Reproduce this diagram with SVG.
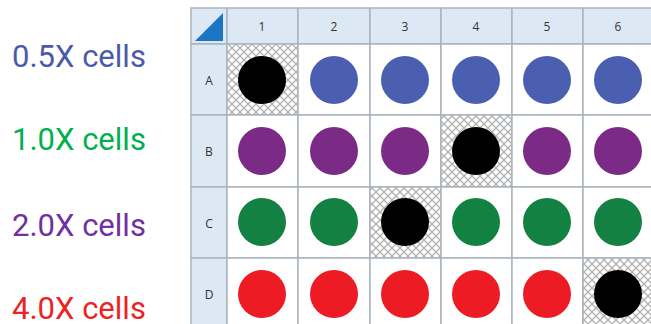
<svg xmlns="http://www.w3.org/2000/svg" width="651" height="324" viewBox="0 0 651 324">
<style>
.lbl{font-family:Roboto,"Liberation Sans",sans-serif;font-size:31px}
.hdr{font-family:"Open Sans","Liberation Sans",Arial,sans-serif;font-size:12px;fill:#333;text-anchor:middle}
.hcell{fill:#dce9f4;stroke:#a9b4bf;stroke-width:1.5}
.cell{fill:#fff;stroke:#a9b4bf;stroke-width:1.5}
.hatch{fill:url(#xh);stroke:#a9b4bf;stroke-width:1.5}
.blue{fill:#4b5fb0}.purple{fill:#7b2a86}.green{fill:#138142}.red{fill:#ed1c24}.black{fill:#000}
</style>
<defs>
<pattern id="xh" patternUnits="userSpaceOnUse" width="8" height="8">
<rect width="8" height="8" fill="#fff"/>
<path d="M0,0L8,8M8,0L0,8" stroke="#b0b0b0" stroke-width="1.3"/>
</pattern>
</defs>
<rect width="651" height="324" fill="#fff"/>
<g id="labels">
<text class="lbl" x="12" y="67" fill="#4b5aa8">0.5X cells</text>
<text class="lbl" x="12" y="150" fill="#00b050">1.0X cells</text>
<text class="lbl" x="12" y="236" fill="#7030a0">2.0X cells</text>
<text class="lbl" x="12" y="319" fill="#ee2222">4.0X cells</text>
</g>
<g id="header">
<rect class="hcell" x="191" y="8" width="36" height="36"/>
<polygon points="195,41 223,41 223,13" fill="#1b75c2"/>
<rect class="hcell" x="227" y="8" width="71" height="36"/>
<rect class="hcell" x="298" y="8" width="72" height="36"/>
<rect class="hcell" x="370" y="8" width="71" height="36"/>
<rect class="hcell" x="441" y="8" width="71" height="36"/>
<rect class="hcell" x="512" y="8" width="71" height="36"/>
<rect class="hcell" x="583" y="8" width="72" height="36"/>
<text class="hdr" x="262" y="31">1</text>
<text class="hdr" x="334" y="31">2</text>
<text class="hdr" x="405" y="31">3</text>
<text class="hdr" x="476" y="31">4</text>
<text class="hdr" x="547" y="31">5</text>
<text class="hdr" x="618" y="31">6</text>
<rect class="hcell" x="191" y="44" width="36" height="71"/>
<rect class="hcell" x="191" y="115" width="36" height="72"/>
<rect class="hcell" x="191" y="187" width="36" height="71"/>
<rect class="hcell" x="191" y="258" width="36" height="72"/>
<text class="hdr" x="209" y="85">A</text>
<text class="hdr" x="209" y="156">B</text>
<text class="hdr" x="209" y="228">C</text>
<text class="hdr" x="209" y="299">D</text>
</g>
<g id="rowA">
<rect class="hatch" x="227" y="44" width="71" height="71"/>
<rect class="cell" x="298" y="44" width="72" height="71"/>
<rect class="cell" x="370" y="44" width="71" height="71"/>
<rect class="cell" x="441" y="44" width="71" height="71"/>
<rect class="cell" x="512" y="44" width="71" height="71"/>
<rect class="cell" x="583" y="44" width="72" height="71"/>
<circle class="black" cx="262" cy="80" r="24"/>
<circle class="blue" cx="334" cy="80" r="24"/>
<circle class="blue" cx="405" cy="80" r="24"/>
<circle class="blue" cx="476" cy="80" r="24"/>
<circle class="blue" cx="547" cy="80" r="24"/>
<circle class="blue" cx="618" cy="80" r="24"/>
</g>
<g id="rowB">
<rect class="cell" x="227" y="115" width="71" height="72"/>
<rect class="cell" x="298" y="115" width="72" height="72"/>
<rect class="cell" x="370" y="115" width="71" height="72"/>
<rect class="hatch" x="441" y="115" width="71" height="72"/>
<rect class="cell" x="512" y="115" width="71" height="72"/>
<rect class="cell" x="583" y="115" width="72" height="72"/>
<circle class="purple" cx="262" cy="151" r="24"/>
<circle class="purple" cx="334" cy="151" r="24"/>
<circle class="purple" cx="405" cy="151" r="24"/>
<circle class="black" cx="476" cy="151" r="24"/>
<circle class="purple" cx="547" cy="151" r="24"/>
<circle class="purple" cx="618" cy="151" r="24"/>
</g>
<g id="rowC">
<rect class="cell" x="227" y="187" width="71" height="71"/>
<rect class="cell" x="298" y="187" width="72" height="71"/>
<rect class="hatch" x="370" y="187" width="71" height="71"/>
<rect class="cell" x="441" y="187" width="71" height="71"/>
<rect class="cell" x="512" y="187" width="71" height="71"/>
<rect class="cell" x="583" y="187" width="72" height="71"/>
<circle class="green" cx="262" cy="222" r="24"/>
<circle class="green" cx="334" cy="222" r="24"/>
<circle class="black" cx="405" cy="222" r="24"/>
<circle class="green" cx="476" cy="222" r="24"/>
<circle class="green" cx="547" cy="222" r="24"/>
<circle class="green" cx="618" cy="222" r="24"/>
</g>
<g id="rowD">
<rect class="cell" x="227" y="258" width="71" height="72"/>
<rect class="cell" x="298" y="258" width="72" height="72"/>
<rect class="cell" x="370" y="258" width="71" height="72"/>
<rect class="cell" x="441" y="258" width="71" height="72"/>
<rect class="cell" x="512" y="258" width="71" height="72"/>
<rect class="hatch" x="583" y="258" width="72" height="72"/>
<circle class="red" cx="262" cy="294" r="24"/>
<circle class="red" cx="334" cy="294" r="24"/>
<circle class="red" cx="405" cy="294" r="24"/>
<circle class="red" cx="476" cy="294" r="24"/>
<circle class="red" cx="547" cy="294" r="24"/>
<circle class="black" cx="618" cy="294" r="24"/>
</g>
<g id="connectors"/>
</svg>
